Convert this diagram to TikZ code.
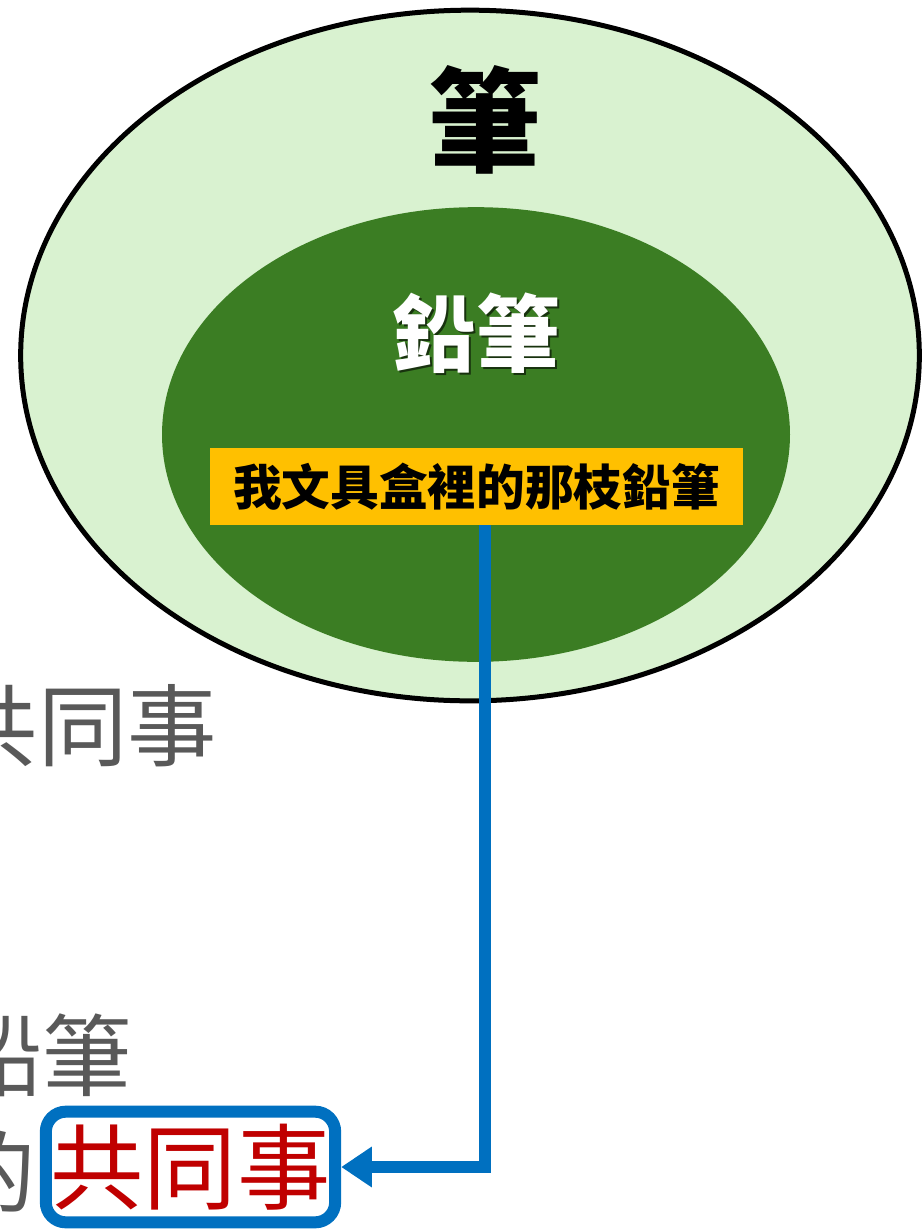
\documentclass[tikz,border=0pt]{standalone}
\usepackage{fontspec}
\setmainfont{Noto Sans CJK TC}
\usetikzlibrary{shapes.geometric,positioning,arrows.meta}

\definecolor{palegreen}{HTML}{D9F2D0}
\definecolor{deepgreen}{HTML}{3B7D23}
\definecolor{amber}{HTML}{FFC000}
\definecolor{linkblue}{HTML}{0070C0}
\definecolor{darkred}{HTML}{C00000}
\definecolor{textgray}{HTML}{595959}

\begin{document}
\begin{tikzpicture}[x=0.75pt,y=-0.75pt]
\tikzstyle{outer} = [ellipse,draw=black,line width=3.75pt,fill=palegreen,minimum width=674pt,minimum height=518pt]
\tikzstyle{inner} = [ellipse,fill=deepgreen,minimum width=471pt,minimum height=341pt]
\tikzstyle{fact} = [rectangle,fill=amber,minimum width=400pt,minimum height=58pt,inner sep=0pt]
\tikzstyle{same} = [rectangle,draw=linkblue,fill=white,line width=9pt,rounded corners=15pt,minimum width=217pt,minimum height=83pt,inner sep=0pt]
\tikzstyle{gray} = [text=textgray,inner sep=0pt]

\useasboundingbox (0,0) rectangle (923,1229);
\clip (0,0) rectangle (923,1229);

\node[outer](pen) at (470,355.5) {};
\node[inner](pencil) at (476,434.5) {};
\node(pentext) at (485,120) {\fontsize{85}{85}\selectfont\bfseries 筆};
\node[text=black!60!deepgreen](pencilshadow) at (478.5,335.5) {\fontsize{63}{63}\selectfont\bfseries 鉛筆};
\node[text=white](penciltext) at (476,333) {\fontsize{63}{63}\selectfont\bfseries 鉛筆};
\node[fact](mine) at (476.5,486.5) {\fontsize{36.5}{36.5}\selectfont\bfseries 我文具盒裡的那枝鉛筆\hspace{8pt}};

\node[gray,anchor=east](common1) at (217,726) {\fontsize{67}{67}\selectfont 共同事};
\node[gray,anchor=east](pencil2) at (132,1055) {\fontsize{67}{67}\selectfont 鉛筆};
\node[gray,anchor=east](of) at (36,1172) {\fontsize{67}{67}\selectfont 的};
\node[same](common2) at (190.5,1167) {\fontsize{70}{70}\selectfont\color{darkred} 共同事};

\draw [linkblue,line width=9pt,-{Triangle[length=23pt,width=29pt]}] ([xshift=6.4pt]mine.south) |- (common2.east);

\end{tikzpicture}
\end{document}
